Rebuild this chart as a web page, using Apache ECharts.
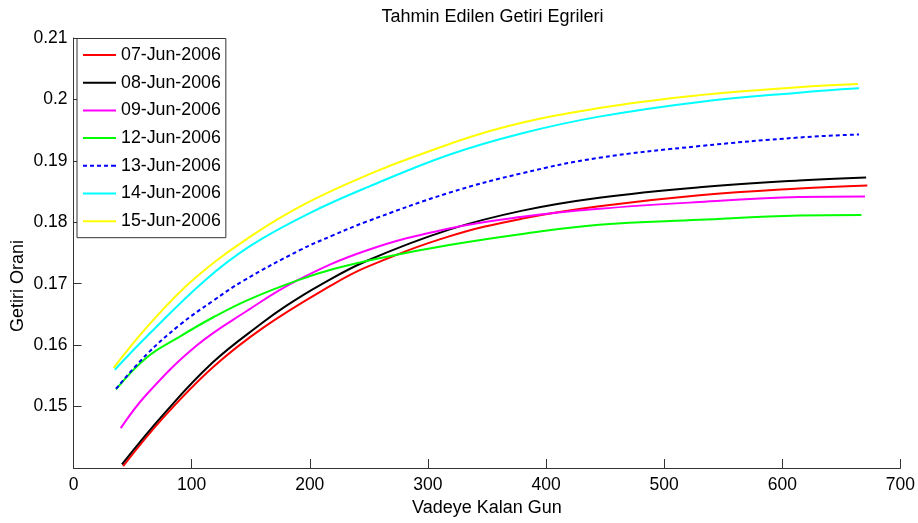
<!DOCTYPE html>
<html>
<head>
<meta charset="utf-8">
<script src="https://cdn.jsdelivr.net/npm/echarts@6/dist/echarts.min.js"></script>
<style>
  html, body { margin: 0; padding: 0; background: #fff; }
  #chart { width: 918px; height: 523px; }
</style>
</head>
<body>
<div id="chart"></div>
<script>
// Estimated yield curves: days to maturity vs. rate, one curve per trading date
const dateLabels = ['07-Jun-2006', '08-Jun-2006', '09-Jun-2006', '12-Jun-2006', '13-Jun-2006', '14-Jun-2006', '15-Jun-2006'];

const days07 = [42, 76, 118, 161, 217, 248, 318, 380, 445, 530, 614, 672];
const rate07 = [0.1403, 0.1482, 0.1564, 0.1629, 0.1696, 0.1727, 0.1777, 0.1806, 0.1826, 0.1844, 0.1855, 0.1860];

const days08 = [41, 76, 118, 161, 180, 208, 248, 318, 380, 445, 530, 614, 671];
const rate08 = [0.1406, 0.1487, 0.1572, 0.1638, 0.1664, 0.1697, 0.1737, 0.1788, 0.1819, 0.1840, 0.1857, 0.1868, 0.1873];

const days09 = [40, 62, 104, 147, 189, 248, 318, 380, 445, 530, 614, 670];
const rate09 = [0.1465, 0.1520, 0.1599, 0.1656, 0.1705, 0.1754, 0.1790, 0.1809, 0.1822, 0.1833, 0.1841, 0.1842];

const days12 = [36, 62, 90, 118, 147, 189, 220, 260, 318, 380, 445, 530, 614, 667];
const rate12 = [0.1528, 0.1580, 0.1614, 0.1645, 0.1673, 0.1705, 0.1724, 0.1742, 0.1763, 0.1781, 0.1796, 0.1804, 0.1811, 0.1812];

const days13 = [36, 62, 90, 118, 144, 192, 220, 248, 318, 380, 445, 530, 614, 665];
const rate13 = [0.1529, 0.1585, 0.1633, 0.1672, 0.1705, 0.1755, 0.1779, 0.1801, 0.1848, 0.1880, 0.1905, 0.1924, 0.1938, 0.1943];

const days14 = [35, 62, 111, 150, 200, 250, 318, 380, 445, 530, 614, 665];
const rate14 = [0.1560, 0.1614, 0.1705, 0.1762, 0.1815, 0.1858, 0.1910, 0.1945, 0.1972, 0.1996, 0.2011, 0.2018];

const days15 = [34, 62, 101, 150, 196, 250, 290, 361, 445, 530, 614, 664];
const rate15 = [0.1563, 0.1629, 0.1706, 0.1777, 0.1830, 0.1878, 0.1908, 0.1953, 0.1986, 0.2007, 0.2020, 0.2025];

const xTicks = [0, 100, 200, 300, 400, 500, 600, 700];
const yTicks = [0.15, 0.16, 0.17, 0.18, 0.19, 0.2, 0.21];

const curveDays = [days07, days08, days09, days12, days13, days14, days15];
const curveRates = [rate07, rate08, rate09, rate12, rate13, rate14, rate15];
const lineColors = ['#ff0000', '#000000', '#ff00ff', '#00ff00', '#0000ff', '#00ffff', '#ffff00'];
const lineTypes = ['solid', 'solid', 'solid', 'solid', [4, 3], 'solid', 'solid'];

// legend keys: a plain 33x2 stroke, or a dashed one for the dashed curve
const SOLID_KEY = 'path://M0,0h33v2h-33z';
const DASHED_KEY = 'path://M0,0h4v2h-4z M7,0h4v2h-4z M14,0h4v2h-4z M21,0h4v2h-4z M28,0h5v2h-5z';

const FONT = '"Liberation Sans", Arial, sans-serif';

const series = dateLabels.map((name, i) => ({
  name: name,
  type: 'line',
  smooth: 0.4,
  symbol: 'none',
  data: curveDays[i].map((d, k) => [d, curveRates[i][k]]),
  lineStyle: { color: lineColors[i], width: 2, type: lineTypes[i] },
  itemStyle: { color: lineColors[i] },
  z: 3
}));

const chart = echarts.init(document.getElementById('chart'), null, { renderer: 'canvas' });
chart.setOption({
  animation: false,
  backgroundColor: '#ffffff',
  title: {
    text: 'Tahmin Edilen Getiri Egrileri',
    left: 487.5,
    textAlign: 'center',
    top: 3,
    textStyle: { fontFamily: FONT, fontSize: 18, fontWeight: 'normal', color: '#000' }
  },
  grid: { left: 73.5, right: 16, top: 38, bottom: 55, containLabel: false },
  legend: {
    orient: 'vertical',
    left: 77,
    top: 38.5,
    padding: [6.5, 5, 6.5, 6],
    itemWidth: 33,
    itemHeight: 2,
    itemGap: 7.7,
    symbolKeepAspect: false,
    borderColor: '#333',
    borderWidth: 1,
    backgroundColor: '#fff',
    textStyle: { fontFamily: FONT, fontSize: 17.8, color: '#000', lineHeight: 20 },
    data: dateLabels.map((name, i) => ({
      name: name,
      icon: lineTypes[i] === 'solid' ? SOLID_KEY : DASHED_KEY
    })),
    z: 10
  },
  xAxis: {
    type: 'value',
    min: xTicks[0],
    max: xTicks[xTicks.length - 1],
    interval: 100,
    name: 'Vadeye Kalan Gun',
    nameLocation: 'middle',
    nameGap: 31,
    nameTextStyle: { fontFamily: FONT, fontSize: 18, color: '#000' },
    axisLine: { lineStyle: { color: '#333', width: 1 } },
    axisTick: { inside: true, length: 9, lineStyle: { color: '#333' } },
    axisLabel: { fontFamily: FONT, fontSize: 17.5, color: '#000', margin: 8 },
    splitLine: { show: false }
  },
  yAxis: {
    type: 'value',
    min: 0.14,
    max: yTicks[yTicks.length - 1],
    interval: 0.01,
    axisLine: { show: true, lineStyle: { color: '#333', width: 1 } },
    axisTick: { show: true, inside: true, length: 8, lineStyle: { color: '#333' } },
    axisLabel: {
      fontFamily: FONT, fontSize: 17.5, color: '#000', margin: 6,
      formatter: v => (yTicks.some(t => Math.abs(t - v) < 1e-9) ? String(+v.toFixed(2)) : '')
    },
    splitLine: { show: false }
  },
  graphic: [{
    type: 'text',
    x: 18,
    y: 286,
    rotation: Math.PI / 2,
    style: {
      text: 'Getiri Orani',
      fontFamily: FONT,
      fontSize: 18,
      fill: '#000',
      align: 'center',
      verticalAlign: 'middle'
    }
  }],
  series: series
});
</script>
</body>
</html>
